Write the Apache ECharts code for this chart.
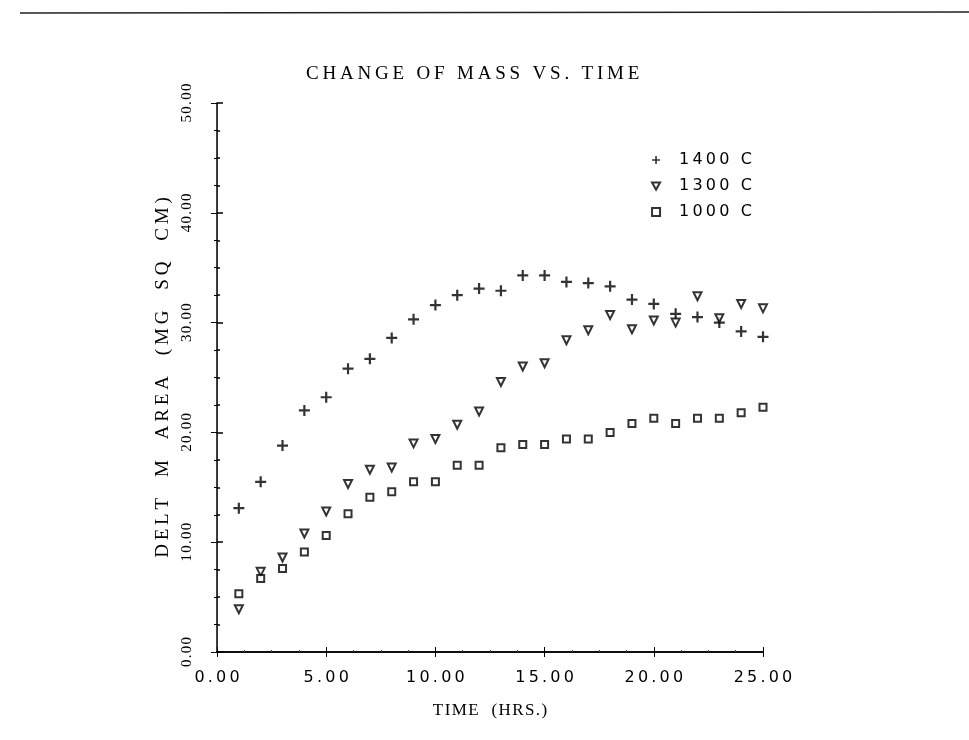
<!DOCTYPE html>
<html>
<head>
<meta charset="utf-8">
<script src="https://cdn.jsdelivr.net/npm/echarts@6/dist/echarts.min.js"></script>
<style>
  html, body { margin: 0; padding: 0; background: #fff; }
  #chart { width: 969px; height: 740px; }
</style>
</head>
<body>
<div id="chart"></div>
<script>
// Exposure time in hours
const hours = [1, 2, 3, 4, 5, 6, 7, 8, 9, 10, 11, 12, 13, 14, 15, 16, 17, 18, 19, 20, 21, 22, 23, 24, 25];

// Mass change per unit area (mg / sq cm) at each temperature
const mass1400 = [13.1, 15.5, 18.8, 22.0, 23.2, 25.8, 26.7, 28.6, 30.3, 31.6, 32.5, 33.1, 32.9, 34.3, 34.3, 33.7, 33.6, 33.3, 32.1, 31.7, 30.8, 30.5, 30.0, 29.2, 28.7];
const mass1300 = [3.9, 7.3, 8.6, 10.8, 12.8, 15.3, 16.6, 16.8, 19.0, 19.4, 20.7, 21.9, 24.6, 26.0, 26.3, 28.4, 29.3, 30.7, 29.4, 30.2, 30.0, 32.4, 30.4, 31.7, 31.3];
const mass1000 = [5.3, 6.7, 7.6, 9.1, 10.6, 12.6, 14.1, 14.6, 15.5, 15.5, 17.0, 17.0, 18.6, 18.9, 18.9, 19.4, 19.4, 20.0, 20.8, 21.3, 20.8, 21.3, 21.3, 21.8, 22.3];

const seriesNames = ['1400 C', '1300 C', '1000 C'];
const xTicks = { min: 0, max: 25, interval: 5 };
const yTicks = { min: 0, max: 50, interval: 10 };

const pair = (vals) => hours.map((h, i) => [h, vals[i]]);

// plotter-style wide lettering: thin/hair spaces between characters
const THIN = '\u2009';
const HAIR = '\u200A';
const spaced = (s, gap) => s.split('').join(gap);

const serif = '"Liberation Serif", "DejaVu Serif", serif';
const sans = '"DejaVu Sans", "Noto Sans", sans-serif';
const ink = '#000';

const plusPath = 'path://M4,0H6V4H10V6H6V10H4V6H0V4H4Z';
const downTriPath = 'path://M0,0L10,0L5,9Z';

const chart = echarts.init(document.getElementById('chart'), null, { renderer: 'canvas' });

chart.setOption({
  backgroundColor: '#fff',
  animation: false,
  title: {
    text: spaced('CHANGE OF MASS VS. TIME', THIN),
    left: 301,
    top: 60,
    textStyle: { fontFamily: serif, fontSize: 19, fontWeight: 'normal', color: ink }
  },
  legend: {
    orient: 'vertical',
    right: 212,
    top: 147,
    itemGap: 10,
    itemWidth: 8,
    itemHeight: 8,
    formatter: (name) => spaced(name, THIN),
    textStyle: { fontFamily: sans, fontSize: 16, color: ink, padding: [0, 0, 0, 14] },
    data: [
      { name: seriesNames[0], icon: plusPath, itemStyle: { color: ink, borderWidth: 0 } },
      { name: seriesNames[1], icon: downTriPath },
      { name: seriesNames[2], icon: 'rect' }
    ]
  },
  grid: { left: 217, right: 206, top: 103, bottom: 88 },
  xAxis: [
    {
      type: 'value',
      min: xTicks.min, max: xTicks.max, interval: xTicks.interval,
      name: spaced('TIME  (HRS.)', HAIR),
      nameLocation: 'middle',
      nameGap: 50,
      nameTextStyle: { fontFamily: serif, fontSize: 17, color: ink },
      axisLine: { lineStyle: { color: ink, width: 1.5 } },
      axisTick: { inside: true, length: 5, lineStyle: { color: ink } },
      minorTick: { show: true, splitNumber: 4, length: 2, lineStyle: { color: '#444' } },
      splitLine: { show: false },
      axisLabel: {
        margin: 18,
        fontFamily: sans, fontSize: 16, color: ink,
        formatter: (v) => spaced(v.toFixed(2), THIN)
      }
    },
    {
      type: 'value', position: 'top',
      min: xTicks.min, max: xTicks.max, interval: xTicks.interval,
      axisLine: { lineStyle: { color: ink, width: 1.5 } },
      axisTick: { inside: true, length: 5, lineStyle: { color: ink } },
      axisLabel: { show: false },
      splitLine: { show: false }
    }
  ],
  yAxis: [
    {
      type: 'value',
      min: yTicks.min, max: yTicks.max, interval: yTicks.interval,
      name: spaced('DELT  M  AREA  (MG  SQ  CM)', THIN),
      nameLocation: 'middle',
      nameGap: 38,
      nameRotate: 90,
      nameTextStyle: { fontFamily: serif, fontSize: 19, color: ink },
      axisLine: { lineStyle: { color: '#bbb', width: 1, type: 'dotted' } },
      axisTick: { inside: true, length: 6, lineStyle: { color: ink, width: 1.5 } },
      minorTick: { show: true, splitNumber: 4, length: 3, lineStyle: { color: ink, width: 1.5 } },
      splitLine: { show: false },
      axisLabel: {
        rotate: 90,
        margin: 22,
        fontFamily: serif, fontSize: 15, color: ink,
        formatter: (v) => spaced(v.toFixed(2), HAIR)
      }
    },
    {
      type: 'value', position: 'right',
      min: yTicks.min, max: yTicks.max, interval: yTicks.interval,
      axisLine: { lineStyle: { color: ink, width: 1.5 } },
      axisTick: { inside: true, length: 6, lineStyle: { color: ink } },
      minorTick: { show: true, splitNumber: 4, length: 3, lineStyle: { color: ink } },
      axisLabel: { show: false },
      splitLine: { show: false }
    }
  ],
  series: [
    {
      name: seriesNames[0],
      type: 'scatter',
      data: pair(mass1400),
      symbol: plusPath,
      symbolSize: 11,
      itemStyle: { color: ink }
    },
    {
      name: seriesNames[1],
      type: 'scatter',
      data: pair(mass1300),
      symbol: downTriPath,
      symbolSize: 8,
      itemStyle: { color: '#fff', borderColor: ink, borderWidth: 2 }
    },
    {
      name: seriesNames[2],
      type: 'scatter',
      data: pair(mass1000),
      symbol: 'rect',
      symbolSize: 7,
      itemStyle: { color: '#fff', borderColor: ink, borderWidth: 2 }
    }
  ],
  graphic: [
    {
      type: 'line',
      shape: { x1: 20, y1: 13, x2: 969, y2: 12 },
      style: { stroke: '#222', lineWidth: 1.5 }
    }
  ]
});
</script>
</body>
</html>
